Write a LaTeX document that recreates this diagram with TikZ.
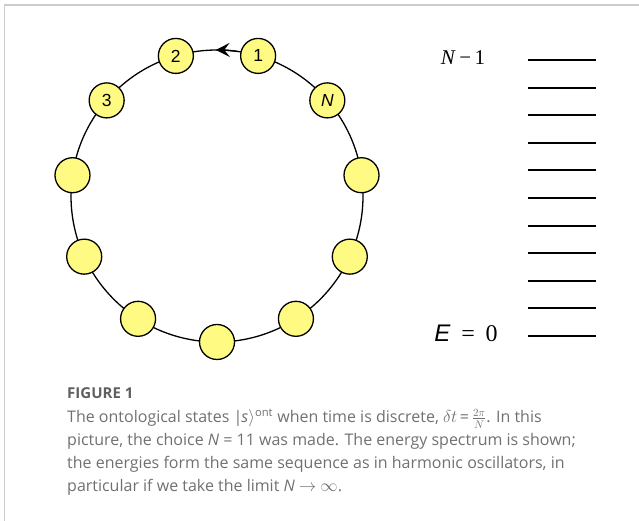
\documentclass[tikz,border=0pt]{standalone}
\usepackage{fontspec}
\setmainfont{Liberation Serif}
\setsansfont{Liberation Sans}
\newfontfamily\capfont{Open Sans}
\usetikzlibrary{arrows.meta}
\definecolor{stateyellow}{RGB}{255,250,130}
\definecolor{capgray}{RGB}{112,112,112}
\definecolor{figgray}{RGB}{95,95,95}
\definecolor{framegray}{RGB}{204,204,204}

\begin{document}
\begin{tikzpicture}[x=1pt,y=1pt,
  state/.style={circle,draw,line width=1.3pt,fill=stateyellow,minimum size=35pt,inner sep=0pt,font=\sffamily\fontsize{17.5}{17.5}\selectfont},
  level/.style={line width=2pt},
  capline/.style={anchor=base west,inner sep=0pt,text=capgray,font=\capfont\fontsize{16}{16}\selectfont}]
\useasboundingbox (0,0) rectangle (639,521);
\draw[framegray,line width=1.5pt] (4.5,0) -- (4.5,516) -- (639,516);
\coordinate (o) at (217,325);
\draw[line width=1.3pt] (o) circle (146);
\draw[line width=1.3pt,-{Stealth[length=14pt,width=14pt,inset=5.5pt]}] ([shift={(82:146)}]o) arc[start angle=82,end angle=90.5,radius=146];
\foreach \k/\lbl [evaluate=\k as \a using 73.64+(\k-1)*32.727] in {1/1,2/2,3/3,4/,5/,6/,7/,8/,9/,10/,11/\textit{N}}
  \node[state] (s\k) at ([shift={(\a:146)}]o) {\lbl};
\foreach \i in {0,...,10}
  \draw[level] (528,{185+\i*27.6}) -- (596,{185+\i*27.6});
\node[font=\fontsize{21}{21}\selectfont] (ntop) at (463,463) {\textit{N}\,−\,1};
\node[font=\fontsize{24}{24}\selectfont] (ezero) at (466,188) {\textsf{\textit{E}}\;\,=\;\,0};
\node[anchor=base west,inner sep=0pt,text=figgray,font=\capfont\bfseries\fontsize{15}{15}\selectfont] (fig) at (67,122) {FIGURE 1};
\node[capline] (cap1) at (67,98) {The ontological states |\kern-1pt\textit{s}$\rangle$\textsuperscript{ont} when time is discrete, $\delta t$\,=\,$\frac{2\pi}{N}$. In this};
\node[capline] (cap2) at (67,75) {picture, the choice \textit{N} = 11 was made. The energy spectrum is shown;};
\node[capline] (cap3) at (67,52) {the energies form the same sequence as in harmonic oscillators, in};
\node[capline] (cap4) at (67,29) {particular if we take the limit \textit{N} $\to$ $\infty$.};
\end{tikzpicture}
\end{document}
